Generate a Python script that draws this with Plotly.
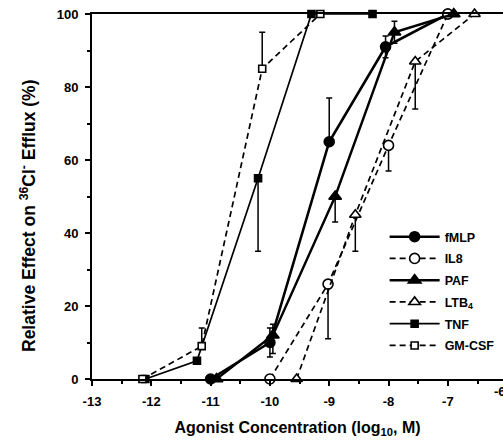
import plotly.graph_objects as go

# ---- data (log10 M, % effect) ----
fmlp_x = [-11.0, -10.0, -9.0, -8.05, -7.0]
fmlp_y = [0, 10, 65, 91, 100]
fmlp_ep = [0, 4, 12, 3, 0]
fmlp_em = [0, 4, 0, 3, 0]

il8_x = [-10.0, -9.02, -8.0, -7.0]
il8_y = [0, 26, 64, 100]
il8_ep = [0, 0, 0, 0]
il8_em = [0, 15, 7, 0]

paf_x = [-10.9, -9.95, -8.9, -7.9, -6.9]
paf_y = [0, 12, 50, 95, 100]
paf_ep = [0, 3, 0, 3, 0]
paf_em = [0, 5, 7, 3, 0]

ltb4_x = [-9.55, -8.56, -7.55, -6.55]
ltb4_y = [0, 45, 87, 100]
ltb4_ep = [0, 0, 0, 0]
ltb4_em = [0, 10, 13, 0]

tnf_x = [-12.1, -11.23, -10.2, -9.3, -8.27]
tnf_y = [0, 5, 55, 100, 100]
tnf_ep = [0, 0, 0, 0, 0]
tnf_em = [0, 0, 20, 0, 0]

gm_x = [-12.15, -11.15, -10.13, -9.15]
gm_y = [0, 9, 85, 100]
gm_ep = [0, 5, 10, 0]
gm_em = [0, 0, 0, 0]

x_ticks = [-13, -12, -11, -10, -9, -8, -7]
y_ticks = [0, 20, 40, 60, 80, 100]

FONT = "Liberation Sans"

series = [
    ("fMLP", fmlp_x, fmlp_y, fmlp_ep, fmlp_em, "circle", "black", 10, "solid", 2.6),
    ("IL8", il8_x, il8_y, il8_ep, il8_em, "circle", "white", 10, "dash", 1.7),
    ("PAF", paf_x, paf_y, paf_ep, paf_em, "triangle-up", "black", 11, "solid", 2.4),
    ("LTB<sub>4</sub>", ltb4_x, ltb4_y, ltb4_ep, ltb4_em, "triangle-up", "white", 10, "dash", 1.7),
    ("TNF", tnf_x, tnf_y, tnf_ep, tnf_em, "square", "black", 7, "solid", 1.7),
    ("GM-CSF", gm_x, gm_y, gm_ep, gm_em, "square", "white", 7, "dash", 1.7),
]

fig = go.Figure()
for i, (name, xs, ys, ep, em, sym, fill, size, dash, lw) in enumerate(series):
    fig.add_trace(go.Scatter(
        x=xs, y=ys, name=name, mode="lines+markers", legendgroup=f"g{i}",
        line=dict(color="black", width=lw, dash="6px,4px" if dash == "dash" else "solid"),
        marker=dict(symbol=sym, color=fill, size=size, line=dict(color="black", width=1.6)),
        error_y=dict(type="data", symmetric=False, array=ep, arrayminus=em,
                     color="black", thickness=1.5, width=3),
        cliponaxis=False,
    ))

fig.update_layout(
    width=503, height=441,
    margin=dict(l=92, r=0, t=14, b=62),
    paper_bgcolor="white", plot_bgcolor="white",
    font=dict(family=FONT, color="black", size=12, weight="bold"),
    showlegend=True,
    legend=dict(x=0.712, y=0.43, xanchor="left", yanchor="top",
                font=dict(family=FONT, size=12.5, color="black", weight="bold"),
                tracegroupgap=2.5, itemwidth=50, bgcolor="rgba(0,0,0,0)"),
    xaxis=dict(range=[-13, -6.07], tickvals=x_ticks,
               ticktext=[str(v) for v in x_ticks],
               ticks="outside", ticklen=5, tickwidth=1.5, tickcolor="black",
               ticklabelstandoff=4,
               minor=dict(dtick=0.5, tick0=-13, ticks="outside", ticklen=3, tickcolor="black"),
               showline=True, linecolor="black", linewidth=2, mirror=True,
               showgrid=False, zeroline=False,
               tickfont=dict(family=FONT, size=13, weight="bold"),
               title=dict(text="Agonist Concentration (log<sub>10</sub>, M)",
                          font=dict(family=FONT, size=16, weight="bold"), standoff=14)),
    yaxis=dict(range=[0, 100], tickvals=y_ticks,
               ticktext=[str(v) for v in y_ticks],
               ticks="outside", ticklen=5, tickwidth=1.5, tickcolor="black",
               ticklabelstandoff=4,
               minor=dict(dtick=10, ticks="outside", ticklen=3, tickcolor="black"),
               showline=True, linecolor="black", linewidth=2,
               showgrid=False, zeroline=False,
               tickfont=dict(family=FONT, size=13, weight="bold")),
)

# y-axis title placed as a rotated annotation (shifted below plot centre as in the original)
fig.add_annotation(text="Relative Effect on <sup>36</sup>Cl<sup>-</sup> Efflux (%)",
                   textangle=-90, xref="paper", yref="paper",
                   x=(28 - 92) / 411, y=(379 - 216) / 365,
                   xanchor="center", yanchor="middle", showarrow=False,
                   font=dict(family=FONT, size=17.5, weight="bold"))

fig.add_annotation(text="-6", xref="paper", yref="paper", x=1.011, y=0,
                   yshift=-22, showarrow=False,
                   font=dict(family=FONT, size=13, weight="bold"))

fig.write_html("out.html")
